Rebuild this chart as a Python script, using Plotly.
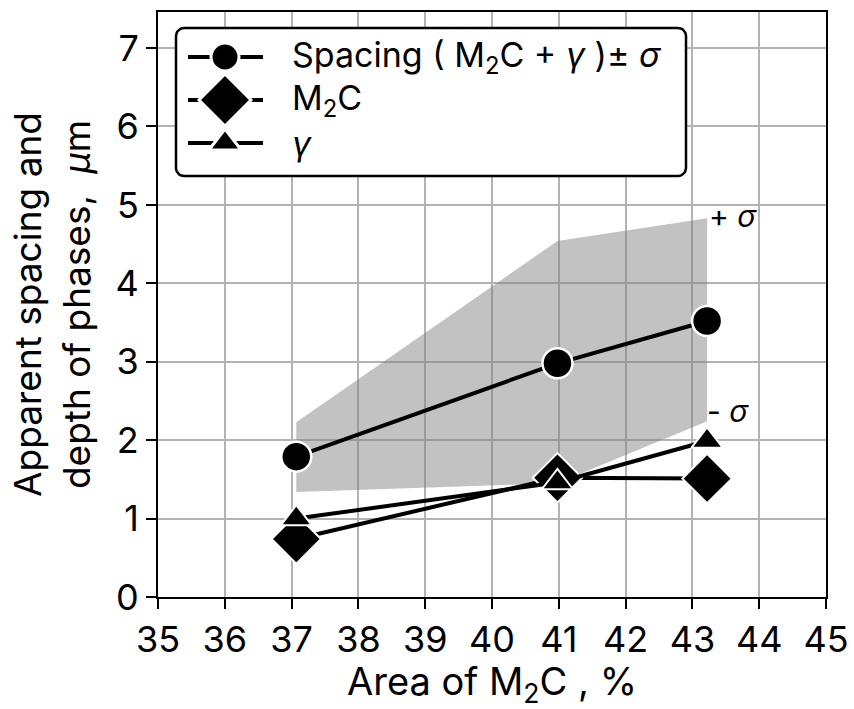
import numpy as np
import plotly.graph_objects as go

# Data
area = [37.07, 40.98, 43.22]
spacing = [1.79, 2.98, 3.52]
spacing_upper = [2.23, 4.54, 4.83]
spacing_lower = [1.34, 1.45, 2.24]
m2c = [0.74, 1.52, 1.51]
gamma = [1.0, 1.46, 1.99]

series_names = ["Spacing ( M<sub>2</sub>C + <i>γ</i> )± <i>σ</i>",
                "M<sub>2</sub>C", "<i>γ</i>"]

FONT = "Inter"
L, R, T, B = 158, 28, 12, 112
W, H = 854, 709
PW, PH = W - L - R, H - T - B

fig = go.Figure()

# +/- sigma band
fig.add_trace(go.Scatter(
    x=area + area[::-1],
    y=spacing_upper + spacing_lower[::-1],
    fill="toself", fillcolor="rgba(125,125,125,0.47)",
    line=dict(width=0), mode="lines", showlegend=False, hoverinfo="skip"))

fig.add_trace(go.Scatter(
    x=area, y=m2c, mode="lines+markers", name=series_names[1], showlegend=False,
    line=dict(color="black", width=4),
    marker=dict(symbol="diamond", size=38, color="black",
                line=dict(color="white", width=2))))

fig.add_trace(go.Scatter(
    x=area, y=gamma, mode="lines+markers", name=series_names[2], showlegend=False,
    line=dict(color="black", width=4),
    marker=dict(symbol="triangle-up", size=27, color="black",
                line=dict(color="white", width=2))))

fig.add_trace(go.Scatter(
    x=area, y=spacing, mode="lines+markers", name=series_names[0], showlegend=False,
    line=dict(color="black", width=4),
    marker=dict(symbol="circle", size=30, color="black",
                line=dict(color="white", width=2.5))))

fig.add_annotation(x=area[-1], y=spacing_upper[-1], text="+ <i>σ</i>",
                   xanchor="left", yanchor="middle", showarrow=False,
                   xshift=0, yshift=2, font=dict(size=30, color="black", family=FONT))
fig.add_annotation(x=area[-1], y=spacing_lower[-1], text="- <i>σ</i>",
                   xanchor="left", yanchor="middle", showarrow=False,
                   xshift=-2, yshift=10, font=dict(size=30, color="black", family=FONT))

# ---- custom legend (drawn on an overlay axis in plot-fraction units) ----
def px2fx(px):
    return (px - L) / PW

def py2fy(py):
    return (H - B - py) / PH

bx0, bx1, by0, by1, rad = 176, 686, 28, 176, 8
pts = []
for cx, cy, a0 in [(bx1 - rad, by0 + rad, -90), (bx1 - rad, by1 - rad, 0),
                   (bx0 + rad, by1 - rad, 90), (bx0 + rad, by0 + rad, 180)]:
    for a in np.linspace(a0, a0 + 90, 8):
        pts.append((cx + rad * np.cos(np.radians(a)), cy + rad * np.sin(np.radians(a))))
pts.append(pts[0])
fig.add_trace(go.Scatter(
    x=[px2fx(p[0]) for p in pts], y=[py2fy(p[1]) for p in pts],
    xaxis="x2", yaxis="y2", mode="lines", fill="toself", fillcolor="white",
    line=dict(color="black", width=2.5), showlegend=False, hoverinfo="skip"))

rows_y = [57, 100, 143]
symbols = [("circle", 28), ("diamond", 40), ("triangle-up", 28)]
for ry, (sym, sz), name in zip(rows_y, symbols, series_names):
    fig.add_trace(go.Scatter(
        x=[px2fx(188), px2fx(225), px2fx(263)], y=[py2fy(ry)] * 3,
        xaxis="x2", yaxis="y2", mode="lines", line=dict(color="black", width=4),
        showlegend=False, hoverinfo="skip"))
    fig.add_trace(go.Scatter(
        x=[px2fx(225)], y=[py2fy(ry)], xaxis="x2", yaxis="y2", mode="markers",
        marker=dict(symbol=sym, size=sz, color="black", line=dict(color="white", width=3)),
        showlegend=False, hoverinfo="skip"))
    fig.add_annotation(x=px2fx(290), y=py2fy(ry), xref="x2", yref="y2", text=name,
                       xanchor="left", yanchor="middle", showarrow=False,
                       font=dict(size=34, color="black", family=FONT))

axis_common = dict(
    showline=True, linecolor="black", linewidth=2, mirror=True,
    ticks="outside", ticklen=10, tickwidth=2, tickcolor="black",
    showgrid=True, gridcolor="#b3b3b3", gridwidth=2,
    zeroline=False, tickfont=dict(size=36, color="black", family=FONT),
)

fig.update_layout(
    width=W, height=H,
    margin=dict(l=L, r=R, t=T, b=B, autoexpand=False),
    plot_bgcolor="white", paper_bgcolor="white",
    font=dict(family=FONT, color="black"),
    showlegend=False,
    xaxis=dict(range=[35, 45], dtick=1, tick0=35, automargin=False,
               title=dict(text="Area of M<sub>2</sub>C , %", font=dict(size=38), standoff=2),
               **axis_common),
    yaxis=dict(range=[0, 7.46], dtick=1, tick0=0, automargin=False,
               title=dict(text="Apparent spacing and<br>depth of phases,  <i>μ</i>m",
                          font=dict(size=37), standoff=14),
               **axis_common),
    xaxis2=dict(overlaying="x", range=[0, 1], visible=False, fixedrange=True),
    yaxis2=dict(overlaying="y", range=[0, 1], visible=False, fixedrange=True),
)

fig.write_html(
    "out.html",
    post_script="document.body.style.margin='0';document.body.style.overflow='hidden';",
)
